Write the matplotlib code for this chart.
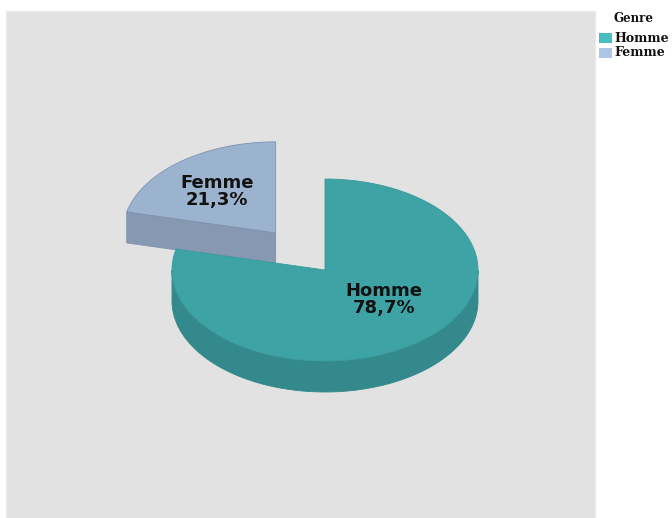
import numpy as np
import matplotlib.pyplot as plt
from matplotlib.patches import Polygon, Rectangle

genres = ["Homme", "Femme"]
percents = [78.7, 21.3]
explode = [0.0, 0.52]

top_colors = ["#3ea3a5", "#9cb3cf"]
side_colors = ["#33898b", "#8798b2"]
edge_colors = ["#3a9a9c", "#7e92ae"]
legend_colors = ["#45bfc0", "#adc6e8"]

# pie geometry in pixel units (y grows downward)
cx, cy = 325, 270
rx, ry = 153, 91
depth = 31


def pt(a, ox, oy, r=1.0, dz=0.0):
    return (ox + r * rx * np.cos(np.radians(a)),
            oy - r * ry * np.sin(np.radians(a)) + dz)


fig = plt.figure(figsize=(6.72, 5.18), dpi=100)
ax = fig.add_axes([0, 0, 1, 1])
ax.set_xlim(0, 672)
ax.set_ylim(518, 0)
ax.axis("off")

ax.add_patch(Rectangle((6, 11), 589, 510, facecolor="#e2e2e2",
                       edgecolor="#ebebeb", lw=1, zorder=0))

# slices go clockwise from 12 o'clock
bounds = []
start = 90.0
for p in percents:
    sweep = p / 100 * 360
    bounds.append((start - sweep, start))
    start -= sweep

order = [1, 0]  # back slice first
for i in order:
    a_lo, a_hi = bounds[i]
    mid = (a_lo + a_hi) / 2
    ox = cx + explode[i] * rx * np.cos(np.radians(mid))
    oy = cy - explode[i] * ry * np.sin(np.radians(mid))
    z = 2 + order.index(i)

    # radial faces that point toward the viewer
    for a, normal in [(a_lo, a_lo - 90), (a_hi, a_hi + 90)]:
        if np.sin(np.radians(normal)) < -1e-6:
            p0 = (ox, oy)
            p1 = pt(a, ox, oy)
            face = [p0, p1, (p1[0], p1[1] + depth), (p0[0], p0[1] + depth)]
            ax.add_patch(Polygon(face, closed=True, facecolor=side_colors[i],
                                 edgecolor=edge_colors[i], lw=0.6, zorder=z))

    # outer wall on the front half of the ellipse
    s0 = max(a_lo, -180 if a_lo < 0 else 180)
    s1 = min(a_hi, 0 if a_lo < 0 else 360)
    if s1 > s0:
        arc = np.linspace(s0, s1, 120)
        upper = [pt(a, ox, oy) for a in arc]
        lower = [pt(a, ox, oy, dz=depth) for a in arc[::-1]]
        ax.add_patch(Polygon(upper + lower, closed=True,
                             facecolor=side_colors[i], edgecolor=side_colors[i],
                             lw=0.6, zorder=z))

    # top face
    arc = np.linspace(a_lo, a_hi, 200)
    top = [(ox, oy)] + [pt(a, ox, oy) for a in arc]
    ax.add_patch(Polygon(top, closed=True, facecolor=top_colors[i],
                         edgecolor=edge_colors[i], lw=0.6, zorder=z))

    # slice label
    lx = ox + 0.62 * rx * np.cos(np.radians(mid))
    ly = oy - 0.5 * ry * np.sin(np.radians(mid)) - 6
    ax.text(lx, ly, "{}\n{}%".format(genres[i], f"{percents[i]:.1f}".replace(".", ",")),
            ha="center", va="center", fontsize=13, fontweight="bold",
            family="DejaVu Sans", color="#111111", linespacing=0.92, zorder=10)

# legend
ax.text(633, 18, "Genre", ha="center", va="center", fontsize=8.5,
        fontweight="bold", family="DejaVu Serif", color="#111111")
for k, g in enumerate(genres):
    y = 38 + 15 * k
    ax.add_patch(Rectangle((599, y - 5), 13, 10, facecolor=legend_colors[k],
                           edgecolor="none"))
    ax.text(614, y, g, ha="left", va="center", fontsize=9,
            fontweight="bold", family="DejaVu Serif", color="#111111")

fig.savefig("out.png", dpi=100)
